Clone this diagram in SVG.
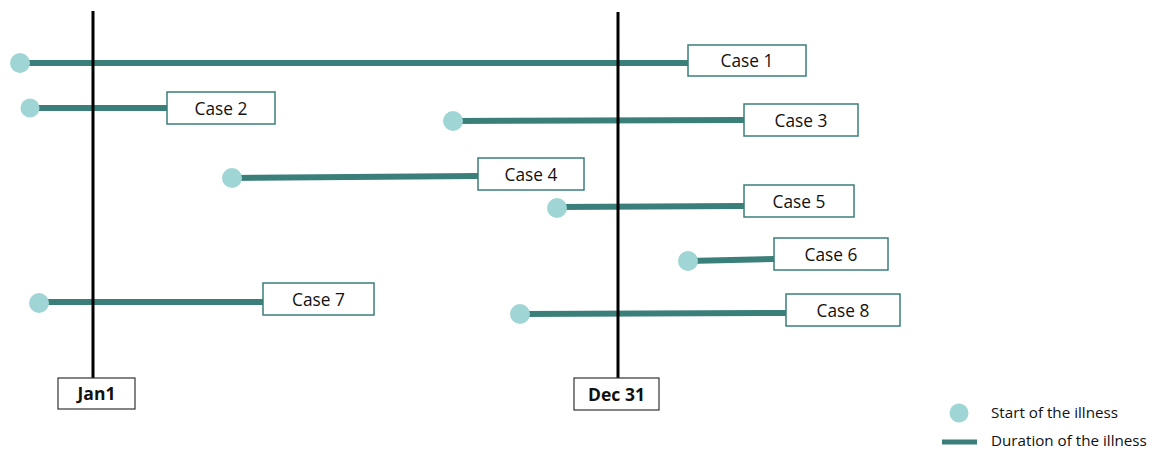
<svg xmlns="http://www.w3.org/2000/svg" width="1166" height="450" viewBox="0 0 1166 450">
<style>
.bg{fill:#ffffff}
.axis{stroke:#000;stroke-width:3}
.dur{stroke:#3a7f7a;stroke-width:6;fill:none}
.start{fill:#9fd6d5}
.box{fill:#fff;stroke:#3a7f7a;stroke-width:1.5}
.dbox{fill:#fff;stroke:#333;stroke-width:1.2}
.t{font-family:"Open Sans",Lato,"Liberation Sans",sans-serif;font-size:17.3px;fill:#111;text-anchor:middle}
.tb{font-family:"Open Sans",Lato,"Liberation Sans",sans-serif;font-size:17.5px;font-weight:bold;fill:#111;text-anchor:middle}
.lg{font-family:"Open Sans",Lato,"Liberation Sans",sans-serif;font-size:15.2px;fill:#111}
</style>
<rect class="bg" width="1166" height="450"/>
<g id="connectors">
<line class="dur" x1="20" y1="63" x2="688" y2="63"/>
<line class="dur" x1="30" y1="108" x2="167" y2="108"/>
<line class="dur" x1="453" y1="121" x2="744" y2="120"/>
<line class="dur" x1="232" y1="178" x2="478" y2="176"/>
<line class="dur" x1="557" y1="207" x2="744" y2="206"/>
<line class="dur" x1="688" y1="261" x2="774" y2="259"/>
<line class="dur" x1="39" y1="302" x2="263" y2="302"/>
<line class="dur" x1="520" y1="314" x2="786" y2="313"/>
</g>
<g id="jan1">
<line class="axis" x1="93" y1="11" x2="93" y2="378"/>
<rect class="dbox" x="58" y="378" width="77" height="31"/>
<text class="tb" x="96.5" y="400">Jan1</text>
</g>
<g id="dec31">
<line class="axis" x1="618" y1="12" x2="618" y2="378"/>
<rect class="dbox" x="574" y="378" width="85" height="32"/>
<text class="tb" x="616.5" y="400.5">Dec 31</text>
</g>
<g id="case1">
<circle class="start" cx="20" cy="63" r="10"/>
<rect class="box" x="688" y="45" width="118" height="31"/>
<text class="t" x="747" y="67">Case 1</text>
</g>
<g id="case2">
<circle class="start" cx="30" cy="108" r="9.5"/>
<rect class="box" x="167" y="92" width="108" height="32"/>
<text class="t" x="221" y="114.5">Case 2</text>
</g>
<g id="case3">
<circle class="start" cx="453" cy="121" r="10"/>
<rect class="box" x="744" y="104" width="114" height="32"/>
<text class="t" x="801" y="126.5">Case 3</text>
</g>
<g id="case4">
<circle class="start" cx="232" cy="178" r="10"/>
<rect class="box" x="478" y="158" width="106" height="32"/>
<text class="t" x="531" y="180.5">Case 4</text>
</g>
<g id="case5">
<circle class="start" cx="557" cy="208" r="10"/>
<rect class="box" x="744" y="185" width="110" height="32"/>
<text class="t" x="799" y="207.5">Case 5</text>
</g>
<g id="case6">
<circle class="start" cx="688" cy="261" r="10"/>
<rect class="box" x="774" y="238" width="114" height="32"/>
<text class="t" x="831" y="260.5">Case 6</text>
</g>
<g id="case7">
<circle class="start" cx="39" cy="303" r="10"/>
<rect class="box" x="263" y="283" width="111" height="32"/>
<text class="t" x="318.5" y="305.5">Case 7</text>
</g>
<g id="case8">
<circle class="start" cx="520" cy="314" r="10"/>
<rect class="box" x="786" y="294" width="114" height="32"/>
<text class="t" x="843" y="316.5">Case 8</text>
</g>
<g id="legend">
<circle class="start" cx="959" cy="413" r="9.5"/>
<text class="lg" x="991" y="418">Start of the illness</text>
<line class="dur" x1="942" y1="442" x2="977" y2="442" style="stroke-width:5"/>
<text class="lg" x="991" y="445.5">Duration of the illness</text>
</g>
</svg>
